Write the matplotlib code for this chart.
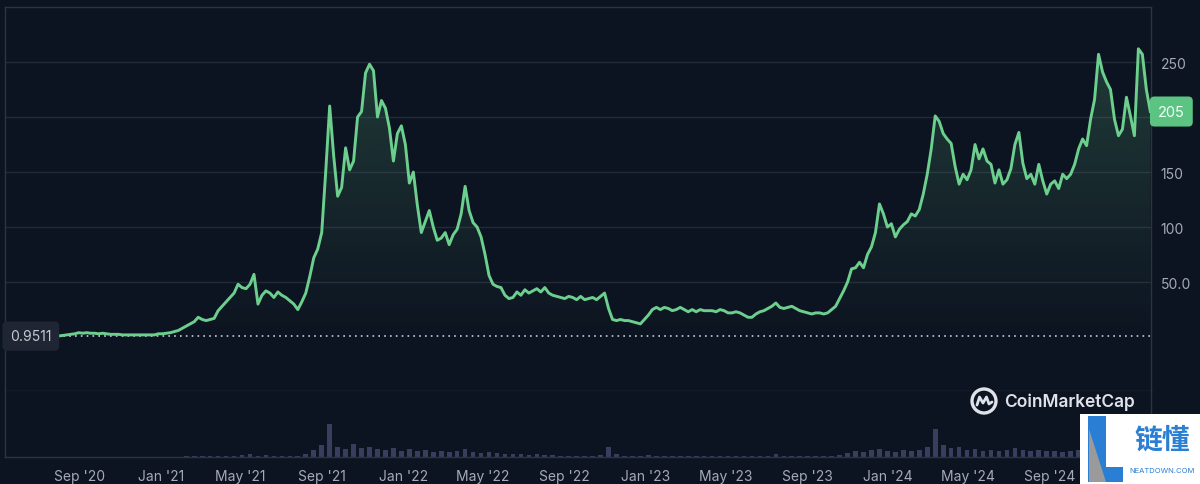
import numpy as np
import pandas as pd
import matplotlib
matplotlib.use("Agg")
import matplotlib.pyplot as plt
import matplotlib.dates as mdates
from matplotlib.colors import to_rgb
from matplotlib.patches import Circle, Polygon, Rectangle
from matplotlib.lines import Line2D
from matplotlib.transforms import blended_transform_factory

# price, one value every 6 days
price = [
    1, 1.5, 2, 2.5, 3, 4, 3.5, 4, 3.5, 3.5,
    3, 3.5, 3, 2.5, 2.5, 2.5, 2, 2, 2, 2,
    2, 2, 2, 2, 2, 3, 3, 3.5, 4, 5,
    6, 8, 10, 12, 14, 18, 16, 15, 16, 17,
    24, 28, 32, 36, 40, 48, 45, 44, 48, 57,
    30, 38, 42, 40, 36, 41, 38, 36, 33, 30,
    25, 32, 40, 55, 72, 80, 95, 150, 210, 165,
    128, 136, 172, 152, 160, 200, 205, 240, 248, 242,
    200, 215, 208, 190, 160, 185, 192, 175, 140, 150,
    120, 95, 105, 115, 100, 88, 90, 95, 84, 93,
    98, 112, 137, 115, 104, 100, 91, 75, 56, 48,
    46, 45, 38, 35, 36, 41, 38, 43, 40, 42,
    44, 41, 45, 40, 38, 37, 36, 35, 37, 36,
    34, 37, 34, 35, 36, 34, 37, 40, 26, 16,
    15, 16, 15, 15, 14, 13, 12, 16, 20, 25,
    27, 25, 27, 26, 24, 25, 27, 25, 23, 25,
    23, 25, 24, 24, 24, 23, 25, 24, 22, 22,
    23, 22, 20, 18, 18, 21, 23, 24, 26, 28,
    31, 27, 26, 27, 28, 26, 24, 23, 22, 21,
    22, 22, 21, 22, 25, 28, 35, 42, 50, 62,
    63, 68, 63, 75, 82, 95, 121, 112, 100, 103,
    91, 98, 102, 105, 112, 110, 116, 130, 148, 171,
    201, 196, 185, 180, 176, 155, 139, 148, 143, 152,
    175, 162, 171, 160, 157, 140, 152, 139, 143, 153,
    175, 186, 158, 144, 148, 139, 157, 142, 130, 139,
    142, 135, 148, 144, 148, 157, 171, 180, 174, 198,
    216, 257, 241, 232, 225, 198, 183, 189, 218, 201,
    183, 262, 257, 225, 205,
]

# volume (relative units), one bar every 12 days
volume = [
    0.3, 0.3, 0.3, 0.3, 0.3, 0.3, 0.3, 0.3, 0.3, 0.3,
    0.3, 0.3, 0.3, 0.4, 0.4, 0.5, 0.6, 0.7, 0.6, 0.7,
    0.9, 1.2, 1.5, 2.0, 3.0, 1.5, 2.0, 1.0, 1.0, 0.9,
    1.2, 3, 7, 12, 33, 10, 8, 13, 9, 10,
    8, 7, 9, 6, 8, 6, 7, 5, 6, 5,
    6, 8, 5, 4, 5, 4, 3.5, 3, 3, 2.5,
    3, 2, 2, 1.5, 1.5, 1.5, 1.5, 1.5, 2, 10,
    3, 1.5, 1.5, 1.5, 2, 1.5, 1.2, 1.2, 1.0, 1.0,
    1.0, 1.0, 1.0, 1.0, 0.8, 0.8, 0.8, 1.0, 1.0, 1.5,
    3, 1.2, 1.0, 0.8, 0.8, 0.8, 0.8, 1.0, 2, 4,
    6, 5, 7, 8, 6, 5, 7, 6, 7, 10,
    28, 12, 9, 10, 7, 8, 6, 7, 6, 7,
    9, 7, 6, 7, 6, 6, 5, 6, 7, 9,
    12, 14, 10, 9, 8, 11, 14, 9,
]

start_price = 0.9511
price_ticks = [50, 100, 150, 200, 250]
# 200 sits under the current-price tag in the original
price_tick_labels = ["50.0", "100", "150", "", "250"]
month_ticks = pd.date_range("2020-09-01", "2024-09-01", freq="4MS")

dates = pd.date_range(end="2025-01-30", periods=len(price), freq="6D")
vol_dates = pd.date_range(end="2025-01-30", periods=len(volume), freq="12D")

BG = "#0d1421"
GRID = "#222937"
EDGE = "#2c3341"
LINE = "#6ccf8e"
TXT = "#a4aab6"
FONT = ["Inter", "DejaVu Sans"]

W, H = 1200, 485
plt.rcParams["font.family"] = FONT


def box(x0, y0, x1, y1):
    return [x0 / W, 1 - y1 / H, (x1 - x0) / W, (y1 - y0) / H]


def fx(x):
    return x / W


def fy(y):
    return 1 - y / H


fig = plt.figure(figsize=(W / 100, H / 100), dpi=100, facecolor=BG)
ax = fig.add_axes(box(5, 8, 1151, 392))
axv = fig.add_axes(box(5, 392, 1151, 458), sharex=ax)
for a in (ax, axv):
    a.set_facecolor(BG)
    for s in a.spines.values():
        s.set_color(EDGE)
        s.set_linewidth(1)
axv.spines["top"].set_visible(False)

# gradient fill under the price line
xnum = mdates.date2num(dates)
fill = ax.fill_between(dates, price, -49, facecolor="none", edgecolor="none")
grad = np.zeros((256, 1, 4))
grad[..., :3] = to_rgb(LINE)
grad[:, 0, 3] = np.linspace(0.0, 0.21, 256)
img = ax.imshow(grad, extent=[xnum[0], xnum[-1], 0, 260], origin="lower",
                aspect="auto", zorder=1, interpolation="bilinear")
img.set_clip_path(fill.get_paths()[0], transform=ax.transData)

ax.plot(dates, price, color=LINE, lw=2.1, zorder=3, solid_joinstyle="round")
ax.axhline(start_price, color="#c9ccd3", lw=1.2, ls=(0, (1, 2.5)), zorder=2)

ax.set_ylim(-49, 300)
ax.set_xlim(pd.Timestamp("2020-05-11"), pd.Timestamp("2025-01-31"))
ax.set_yticks(price_ticks)
ax.set_yticklabels(price_tick_labels)
ax.yaxis.tick_right()
ax.tick_params(axis="y", length=0, pad=7, labelcolor=TXT, labelsize=10)
ax.tick_params(axis="x", length=0, labelbottom=False)
ax.grid(axis="y", color=GRID, lw=1)
ax.set_axisbelow(True)

# volume bars
axv.bar(vol_dates, volume, width=7, color="#373e5e", zorder=2)
axv.set_ylim(0, 66)
axv.set_yticks([])
axv.set_xticks(month_ticks)
axv.xaxis.set_major_formatter(mdates.DateFormatter("%b '%y"))
axv.tick_params(axis="x", length=0, pad=9, labelcolor=TXT, labelsize=10)

# value tags
trans = blended_transform_factory(ax.transAxes, ax.transData)
ax.text(1.0061, price[-1], f"{price[-1]:.0f}", transform=trans, ha="left",
        va="center", fontsize=10.5, color="#f2fff6", zorder=10, clip_on=False,
        bbox=dict(boxstyle="round,pad=0.55,rounding_size=0.3", fc="#5cc483", ec="none"))
ax.text(0.0044, start_price, f"{start_price}", transform=trans, ha="left",
        va="center", fontsize=10, color="#c5c9d2", zorder=10,
        bbox=dict(boxstyle="round,pad=0.55,rounding_size=0.35", fc="#1f2533", ec="none"))

# CoinMarketCap watermark (circle drawn in inches so it stays round)
wm = "#dfe2e8"
fig.patches.append(Circle((9.84, (H - 402) / 100), 0.12, transform=fig.dpi_scale_trans,
                          fill=False, ec=wm, lw=2.4, zorder=5))
fig.lines.append(Line2D([fx(977), fx(979.5), fx(983), fx(986.5), fx(989), fx(992)],
                        [fy(406), fy(398), fy(404), fy(398), fy(405), fy(403)],
                        transform=fig.transFigure, color=wm, lw=2, zorder=5,
                        solid_joinstyle="round", solid_capstyle="round"))
fig.text(fx(1004), fy(402), "CoinMarketCap", fontsize=12.5, fontweight="semibold",
         color=wm, ha="left", va="center")

# site logo, bottom right
blue = "#2a7fd4"
fig.patches.append(Rectangle((fx(1080), 0), 120 / W, 70 / H, transform=fig.transFigure,
                             fc="white", ec="none", zorder=20))
fig.patches.append(Polygon([(fx(1088), fy(417)), (fx(1106), fy(417)), (fx(1106), fy(483)),
                            (fx(1088), fy(483))], closed=True, transform=fig.transFigure,
                           fc=blue, ec="none", zorder=21))
fig.patches.append(Polygon([(fx(1089), fy(430)), (fx(1106), fy(483)), (fx(1089), fy(483))],
                           closed=True, transform=fig.transFigure, fc="#9a9a9a", ec="none",
                           zorder=22))
fig.patches.append(Polygon([(fx(1106), fy(468)), (fx(1123), fy(468)), (fx(1123), fy(483)),
                            (fx(1106), fy(483))], closed=True, transform=fig.transFigure,
                           fc=blue, ec="none", zorder=21))
fig.text(fx(1162), fy(441), "链懂", fontsize=20, color=blue, fontweight="bold",
         family=["Noto Sans CJK SC", "DejaVu Sans"], ha="center", va="center", zorder=23)
fig.text(fx(1162), fy(471), "NEATDOWN.COM", fontsize=5.5, color=blue,
         ha="center", va="center", zorder=23)

fig.savefig("out.png", dpi=100, facecolor=BG)
